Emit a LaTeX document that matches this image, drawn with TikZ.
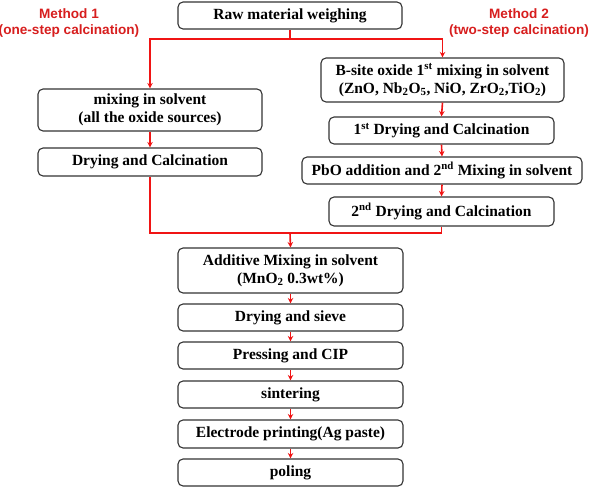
\documentclass[tikz,border=0pt]{standalone}
\usepackage{fontspec}
\setmainfont{Liberation Serif}
\newfontfamily\methfont{Liberation Sans}
\usetikzlibrary{arrows.meta}
\definecolor{methred}{RGB}{215,30,30}
\definecolor{linered}{RGB}{240,20,20}
\begin{document}
\begin{tikzpicture}[x=1pt,y=-1pt,
  box/.style={draw=black!80, line width=1.1pt, rounded corners=5pt, fill=white,
    font=\bfseries\fontsize{15.5}{18}\selectfont, align=center, inner sep=0pt},
  arr/.style={draw=linered, line width=1.6pt, -{Stealth[length=5.5pt,width=5.5pt]}},
  rline/.style={draw=linered, line width=1.6pt},
  meth/.style={text=methred, font=\methfont\bfseries\fontsize{13.6}{16.5}\selectfont, align=center}]
\useasboundingbox (0,0) rectangle (592,487);
% method labels
\node[meth] (meth1) at (69,23) {Method 1\\(one-step calcination)};
\node[meth] (meth2) at (519,23) {Method 2\\(two-step calcination)};
% top box
\node[box, minimum width=224pt, minimum height=27pt] (raw) at (290,15.5) {Raw material weighing};
% method 1
\node[box, minimum width=224pt, minimum height=42pt] (m1a) at (150,110) {mixing in solvent\\(all the oxide sources)};
\node[box, minimum width=224pt, minimum height=28pt] (m1b) at (150,162) {Drying and Calcination};
% method 2
\node[box, minimum width=243pt, minimum height=44pt] (m2a) at (442.5,80) {B-site oxide 1\textsuperscript{st} mixing in solvent\\(ZnO, Nb\textsubscript{2}O\textsubscript{5}, NiO, ZrO\textsubscript{2},TiO\textsubscript{2})};
\node[box, minimum width=225pt, minimum height=27pt] (m2b) at (441.5,130.5) {1\textsuperscript{st} Drying and Calcination};
\node[box, minimum width=280pt, minimum height=27pt] (m2c) at (442,170.5) {PbO addition and 2\textsuperscript{nd} Mixing in solvent};
\node[box, minimum width=225pt, minimum height=29pt] (m2d) at (441.5,211.5) {2\textsuperscript{nd} Drying and Calcination};
% common
\node[box, minimum width=225pt, minimum height=45pt] (add) at (290.5,270.5) {Additive Mixing in solvent\\(MnO\textsubscript{2} 0.3wt\%)};
\node[box, minimum width=225pt, minimum height=27pt] (dry) at (290.5,317.5) {Drying and sieve};
\node[box, minimum width=225pt, minimum height=27pt] (press) at (290.5,355.5) {Pressing and CIP};
\node[box, minimum width=225pt, minimum height=27pt] (sint) at (290.5,394.5) {sintering};
\node[box, minimum width=225pt, minimum height=28pt] (elec) at (290.5,434) {Electrode printing(Ag paste)};
\node[box, minimum width=225pt, minimum height=27pt] (pol) at (290.5,472.5) {poling};
% connectors
\coordinate (split) at (290,39);
\coordinate (join) at (290,233);
\draw[rline] (raw.south) -- (split);
\draw[arr] (split) -| (m1a.north);
\draw[arr] (split) -| (m2a.north);
\draw[arr] (m1a.south) -- (m1b.north);
\draw[arr] (m2a.south) -- (m2b.north);
\draw[arr] (m2b.south) -- (m2c.north);
\draw[arr] (m2c.south) -- (m2d.north);
\draw[rline] (m1b.south) |- (join) -| (m2d.south);
\draw[arr] (join) -- (add.north);
\draw[arr] (add.south) -- (dry.north);
\draw[arr] (dry.south) -- (press.north);
\draw[arr] (press.south) -- (sint.north);
\draw[arr] (sint.south) -- (elec.north);
\draw[arr] (elec.south) -- (pol.north);
\end{tikzpicture}
\end{document}
